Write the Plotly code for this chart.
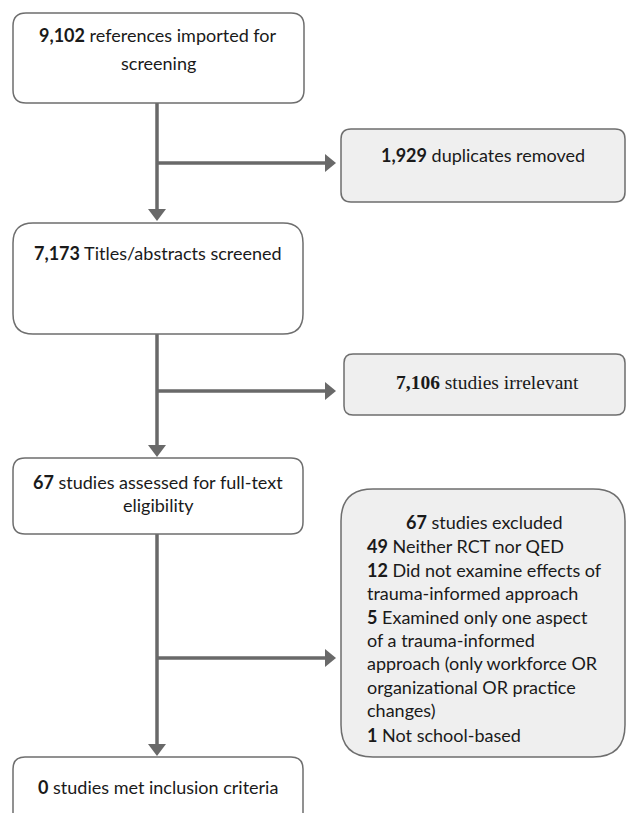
import plotly.graph_objects as go

W, H = 627, 813

# ---- data ----
counts = [9102, 1929, 7173, 7106, 67, 67, 0]
box1_lines = [("9,102", "references imported for"), ("", "screening")]
box3_lines = [("7,173", "Titles/abstracts screened")]
box5_lines = [("67", "studies assessed for full-text"), ("", "eligibility")]
box7_lines = [("0", "studies met inclusion criteria")]
side_labels = [
    ("1,929", "duplicates removed"),
    ("7,106", "studies irrelevant"),
]
excl_title = ("67", "studies excluded")
excl_reasons = [
    ("49", "Neither RCT nor QED"),
    ("12", "Did not examine effects of"),
    ("", "trauma-informed approach"),
    ("5", "Examined only one aspect"),
    ("", "of a trauma-informed"),
    ("", "approach (only workforce OR"),
    ("", "organizational OR practice"),
    ("", "changes)"),
    ("1", "Not school-based"),
]

LINE = "#696969"
BORDER = "#6e6e6e"
SANS = "Lato"
SERIF = "Liberation Serif"
FS = 18


def rrect(x0, y0, x1, y1, r):
    return (f"M {x0+r},{y0} L {x1-r},{y0} Q {x1},{y0} {x1},{y0+r} "
            f"L {x1},{y1-r} Q {x1},{y1} {x1-r},{y1} L {x0+r},{y1} "
            f"Q {x0},{y1} {x0},{y1-r} L {x0},{y0+r} Q {x0},{y0} {x0+r},{y0} Z")


shapes = []
annotations = []


def box(x0, y0, x1, y1, r, fill):
    shapes.append(dict(type="path", path=rrect(x0, y0, x1, y1, r),
                       xref="x", yref="y", fillcolor=fill,
                       line=dict(color=BORDER, width=1.5), layer="above"))


def line(x0, y0, x1, y1):
    shapes.append(dict(type="line", x0=x0, y0=y0, x1=x1, y1=y1, xref="x", yref="y",
                       line=dict(color=LINE, width=3.5), layer="below"))


def arrow_down(x, ytip):
    shapes.append(dict(type="path", path=f"M {x-9},{ytip-12} L {x+9},{ytip-12} L {x},{ytip} Z",
                       xref="x", yref="y", fillcolor=LINE, line=dict(width=0)))


def arrow_right(xtip, y):
    shapes.append(dict(type="path", path=f"M {xtip-11},{y-9} L {xtip-11},{y+9} L {xtip},{y} Z",
                       xref="x", yref="y", fillcolor=LINE, line=dict(width=0)))


def text(x, y, s, size=FS, family=SANS, anchor="center"):
    annotations.append(dict(x=x, y=y, xref="x", yref="y", text=s, showarrow=False,
                            xanchor=anchor, yanchor="middle", align=anchor,
                            font=dict(family=family, size=size, color="#1a1a1a")))


def fmt(b, t):
    return f"<b>{b}</b> {t}" if b else t


MX = 157
# connectors
line(MX, 103, MX, 210)
line(MX, 163, 326, 163)
arrow_down(MX, 221)
arrow_right(336, 163)

line(MX, 334, MX, 446)
line(MX, 391, 326, 391)
arrow_down(MX, 457)
arrow_right(336, 391)

line(MX, 534, MX, 745)
line(MX, 658, 326, 658)
arrow_down(MX, 756)
arrow_right(336, 658)

# boxes
box(13, 13, 304, 103, 13, "white")
box(341, 129, 625, 202, 10, "#efefef")
box(13, 223, 303, 334, 20, "white")
box(344, 354, 625, 415, 9, "#efefef")
box(13, 458, 303, 534, 12, "white")
box(341, 489, 625, 757, 32, "#efefef")
box(13, 757, 303, 840, 12, "white")

# texts
for (b, t), yy in zip(box1_lines, [35, 63]):
    text(158, yy, fmt(b, t))
for (b, t), yy in zip(box3_lines, [253]):
    text(158, yy, fmt(b, t))
for (b, t), yy in zip(box5_lines, [482, 505]):
    text(158, yy, fmt(b, t))
for (b, t), yy in zip(box7_lines, [787]):
    text(158, yy, fmt(b, t))

b, t = side_labels[0]
text(483, 155, fmt(b, t))
b, t = side_labels[1]
text(487, 382, fmt(b, t), size=19.5, family=SERIF)

b, t = excl_title
text(484, 522, fmt(b, t))
ys = [546, 570, 593, 617, 640, 663, 687, 710, 735]
for (b, t), yy in zip(excl_reasons, ys):
    text(365, yy, fmt(b, t), anchor="left")

fig = go.Figure()
fig.update_layout(
    width=W, height=H, margin=dict(l=0, r=0, t=0, b=0),
    paper_bgcolor="white", plot_bgcolor="white",
    xaxis=dict(range=[0, W], visible=False, fixedrange=True),
    yaxis=dict(range=[H, 0], visible=False, fixedrange=True),
    shapes=shapes, annotations=annotations, showlegend=False,
)
fig.write_html("out.html", config={"displayModeBar": False, "staticPlot": True},
               post_script="document.body.style.margin='0';document.body.style.overflow='hidden';")
